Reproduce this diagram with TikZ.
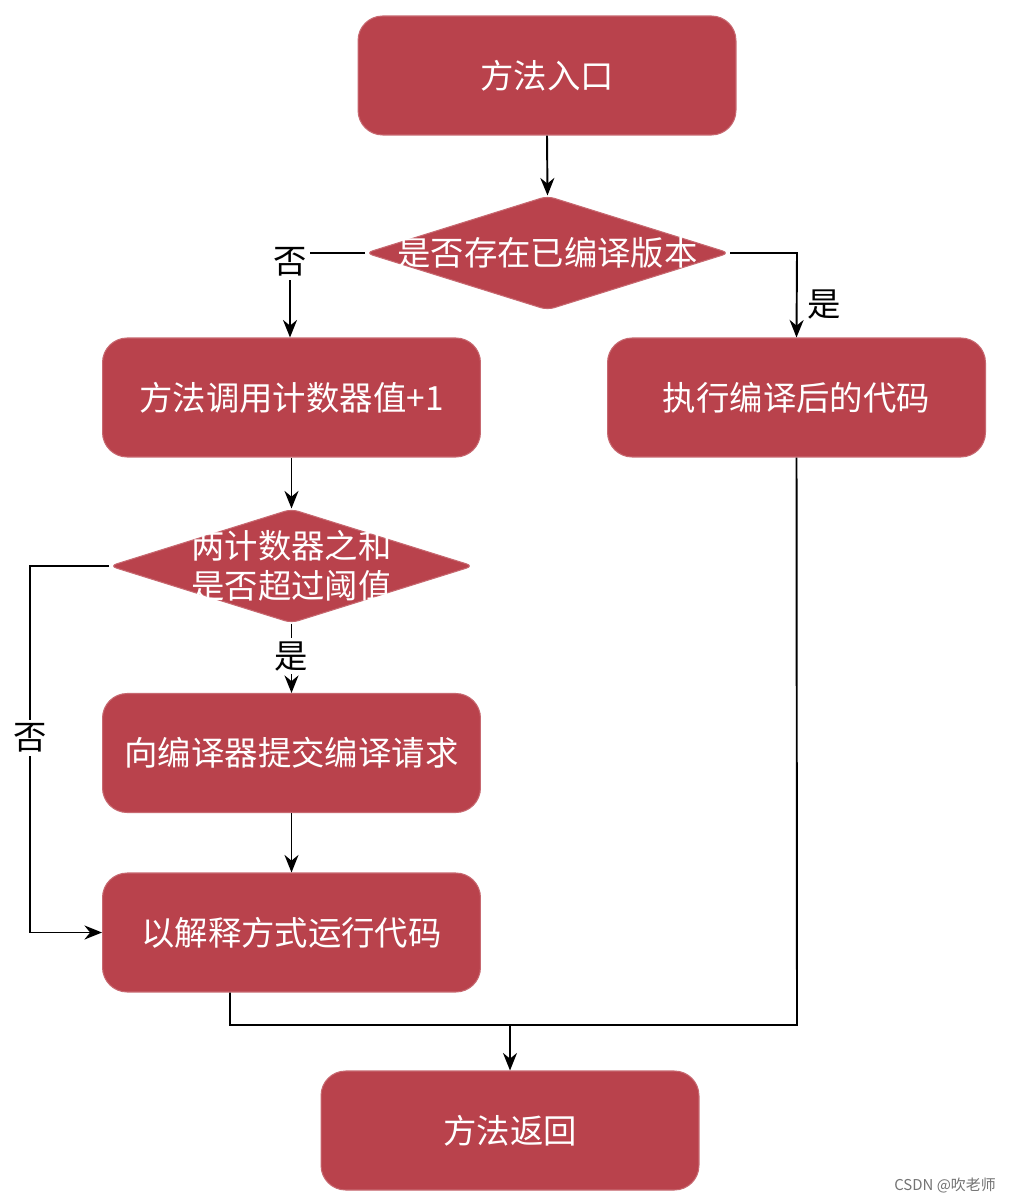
\documentclass[tikz,border=0pt]{standalone}
\usepackage{fontspec}
\setmainfont{Noto Sans CJK SC}
\usetikzlibrary{shapes.geometric,arrows.meta}
\definecolor{boxred}{RGB}{185,66,76}
\tikzset{
  box/.style={rectangle, rounded corners=14pt, fill=boxred, draw=boxred!80!white, line width=0.6pt,
    minimum width=7.56cm, minimum height=2.38cm, inner sep=0pt},
  dia/.style={diamond, fill=boxred, draw=boxred!80!white, line width=0.6pt, inner sep=0pt,
    minimum width=7.28cm, minimum height=2.28cm, rounded corners=4pt},
  txt/.style={text=white, font=\fontsize{19}{23}\selectfont, align=center, inner sep=0pt},
  lbl/.style={text=black, font=\fontsize{19}{23}\selectfont, inner sep=2pt},
  conn/.style={line width=1.1pt, -{Stealth[length=10pt,width=8pt]}},
  seg/.style={line width=1.1pt}
}
\begin{document}
\begin{tikzpicture}[x=0.02cm,y=-0.02cm]
\useasboundingbox (0,0) rectangle (1010,1202);
\fill[white] (0,0) rectangle (1010,1202);

\node[box] (entry) at (547,75.5) {};
\node[txt] at (entry) {方法入口};

\node[dia] (d1) at (547.5,253) {};
\node[txt] at (d1) {是否存在已编译版本};

\node[box] (inc) at (291.5,397.5) {};
\node[txt] at (inc) {方法调用计数器值+1};

\node[box] (exe) at (796.5,397.5) {};
\node[txt] at (exe) {执行编译后的代码};

\node[dia] (d2) at (291.5,566) {};
\node[txt] at (d2) {两计数器之和\\是否超过阈值};

\node[box] (sub) at (291.5,753) {};
\node[txt] at (sub) {向编译器提交编译请求};

\node[box] (interp) at (291.5,932.5) {};
\node[txt] at (interp) {以解释方式运行代码};

\node[box] (ret) at (510,1130.5) {};
\node[txt] at (ret) {方法返回};

% connectors
\draw[conn] (entry.south) -- (d1.north);

\coordinate (c1) at (290,253);
\draw[conn] (d1.west) -- (c1) -- (inc.north -| c1);
\node[lbl, fill=white] at (290,262) {否};

\coordinate (c2) at (797,253);
\draw[conn] (d1.east) -- (c2) -- (exe.north);
\node[lbl] at (824,305) {是};

\draw[conn] (inc.south) -- (d2.north);

\draw[conn] (d2.south) -- node[lbl, fill=white, pos=0.47] {是} (sub.north);

\coordinate (c3) at (30,566);
\coordinate (c4) at (30,932.5);
\draw[conn] (d2.west) -- (c3) -- node[lbl, fill=white, pos=0.47] {否} (c4) -- (interp.west);

\draw[conn] (sub.south) -- (interp.south |- sub.south) -- (interp.north);

\coordinate (m) at (510,1025);
\coordinate (m1) at (230,1025);
\coordinate (m2) at (797,1025);
\draw[seg] (interp.south -| m1) -- (m1) -- (m2) -- (exe.south);
\draw[conn] (m) -- (ret.north);

\node[text=black!55, font=\fontsize{8.5}{10}\selectfont] (wm) at (945,1186) {CSDN @吹老师};
\end{tikzpicture}
\end{document}
